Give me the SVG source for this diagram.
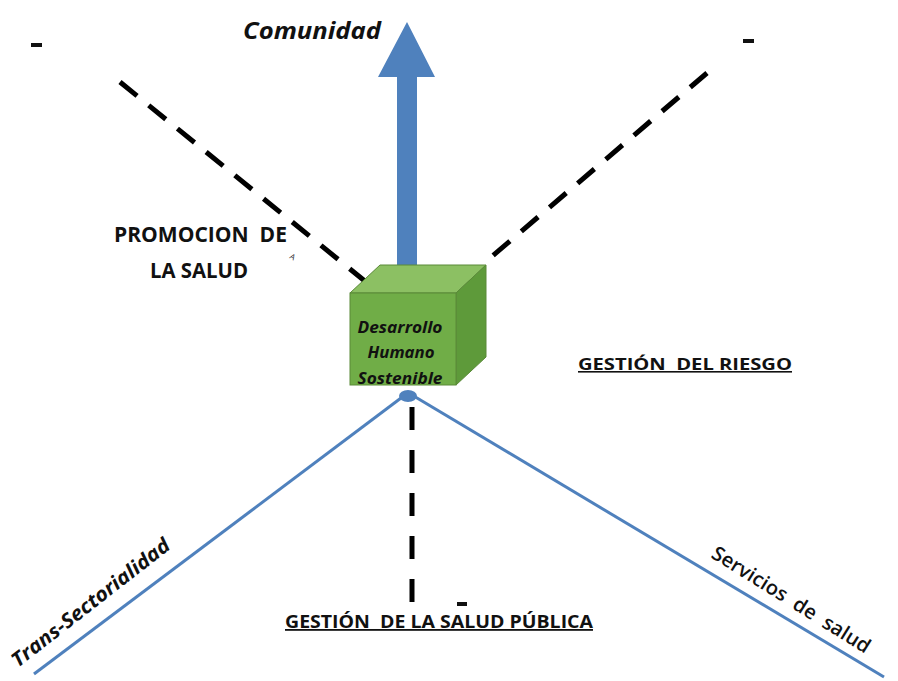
<svg xmlns="http://www.w3.org/2000/svg" width="898" height="681" viewBox="0 0 898 681">
<style>
.t{font-family:"Open Sans","Liberation Sans",sans-serif;fill:#111;}
.b{font-weight:bold;}
.i{font-style:italic;}
.dash{stroke:#000;stroke-width:5;fill:none;stroke-dasharray:22 15;}
.blue{stroke:#4f81bd;stroke-width:3;fill:none;}
</style>
<rect width="898" height="681" fill="#fff"/>
<g id="connectors">
  <line class="dash" x1="120" y1="82" x2="366" y2="282"/>
  <line class="dash" x1="707" y1="73" x2="490" y2="258"/>
  <line class="dash" x1="412" y1="407" x2="412" y2="602" style="stroke-dasharray:23 20"/>
  <line class="blue" x1="409" y1="392" x2="34" y2="674"/>
  <line class="blue" x1="407" y1="392" x2="884" y2="677"/>
  <ellipse cx="408" cy="396" rx="9" ry="6" fill="#4f81bd"/>
  <polygon points="407,22 435,77 417,77 417,268 397,268 397,77 378,77" fill="#4f81bd"/>
</g>
<g id="cube">
  <polygon points="350,293 380,265 486,265 456,293" fill="#8cc063" stroke="#5a8a38" stroke-width="1"/>
  <polygon points="456,293 486,265 486,357 456,385" fill="#5e9a3a" stroke="#5a8a38" stroke-width="1"/>
  <rect x="350" y="293" width="106" height="92" fill="#70ad47" stroke="#5a8a38" stroke-width="1"/>
  <text class="t b i" x="400" y="333" font-size="15.5" text-anchor="middle" fill="#1c2e12" textLength="85" lengthAdjust="spacingAndGlyphs">Desarrollo</text>
  <text class="t b i" x="401" y="358" font-size="15.5" text-anchor="middle" fill="#1c2e12" textLength="67" lengthAdjust="spacingAndGlyphs">Humano</text>
  <text class="t b i" x="400" y="384" font-size="15.5" text-anchor="middle" fill="#1c2e12" textLength="85" lengthAdjust="spacingAndGlyphs">Sostenible</text>
</g>
<g id="labels">
  <text class="t b i" x="243" y="39" font-size="23" textLength="138" lengthAdjust="spacingAndGlyphs">Comunidad</text>
  <text class="t b" x="114" y="242" font-size="21" textLength="173" lengthAdjust="spacingAndGlyphs" xml:space="preserve">PROMOCION  DE</text>
  <text class="t b" x="150" y="278" font-size="21" textLength="98" lengthAdjust="spacingAndGlyphs">LA SALUD</text>
  <text class="t" x="289" y="258" font-size="8" transform="rotate(30 289 258)">A</text>
  <text class="t b" x="578" y="370" font-size="16" text-decoration="underline" textLength="214" lengthAdjust="spacingAndGlyphs" xml:space="preserve">GESTIÓN  DEL RIESGO</text>
  <text class="t b" x="285" y="628" font-size="18" text-decoration="underline" textLength="308" lengthAdjust="spacingAndGlyphs" xml:space="preserve">GESTIÓN  DE LA SALUD PÚBLICA</text>
  <text class="t b i" x="18" y="668" font-size="20" transform="rotate(-38 18 668)" textLength="195" lengthAdjust="spacingAndGlyphs">Trans-Sectorialidad</text>
  <text class="t" x="710" y="557" font-size="20" transform="rotate(32 710 557)" textLength="183" lengthAdjust="spacingAndGlyphs" font-weight="600" xml:space="preserve">Servicios  de  salud</text>
  <rect x="31" y="43" width="11" height="4" fill="#111"/>
  <rect x="743" y="39" width="11" height="4" fill="#111"/>
  <rect x="457" y="602" width="10" height="4" fill="#111"/>
</g>
</svg>
